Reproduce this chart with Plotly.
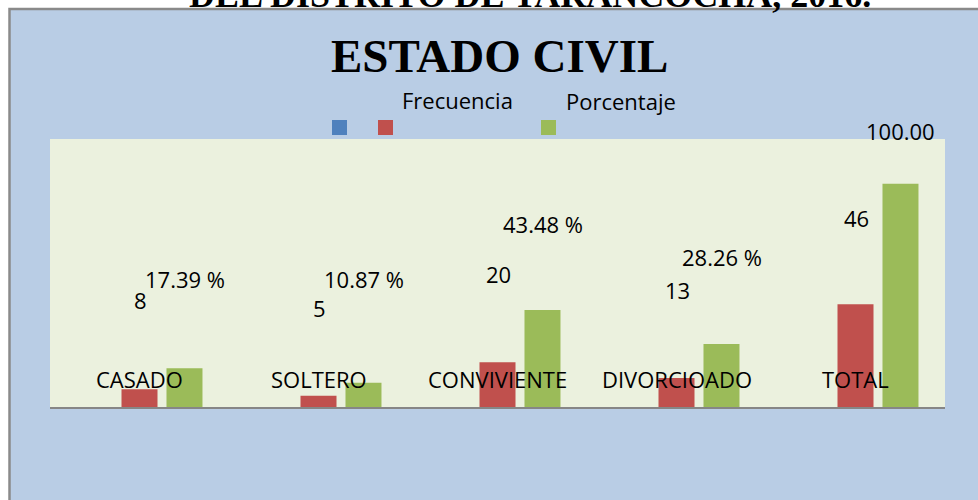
import plotly.graph_objects as go

# ---- data ----
categories = ["CASADO", "SOLTERO", "CONVIVIENTE", "DIVORCIOADO", "TOTAL"]
serie_vacia = [None, None, None, None, None]
frecuencia = [8, 5, 20, 13, 46]
porcentaje = [17.39, 10.87, 43.48, 28.26, 100.00]
frec_text = ["8", "5", "20", "13", "46"]
pct_text = ["17.39 %", "10.87 %", "43.48 %", "28.26 %", "100.00"]

title_text = "ESTADO CIVIL"
header_text = "DEL DISTRITO DE TARANCOCHA, 2016."
legend_names = ["Frecuencia", "Porcentaje"]

# ---- layout / style (pixel-derived positions, not data) ----
W, H = 978, 500
ML, MR, MT, MB = 50, 33, 139, 93
PW, PH = W - ML - MR, H - MT - MB


def px(xp):
    return (xp - ML) / PW


def py(yp):
    return (H - MB - yp) / PH


frec_label_y = [300, 308, 274, 289.5, 217.5]
pct_label_y = [278.5, 278.5, 224, 257, 131]

BLUE, RED, GREEN = "#4f81bd", "#c0504d", "#9bbb59"
OUTER_BG, PLOT_BG = "#b9cde5", "#ebf1de"
FONT = "Open Sans"

fig = go.Figure()
fig.add_trace(go.Bar(x=categories, y=serie_vacia, marker=dict(color=BLUE, line=dict(width=0)), name=""))
fig.add_trace(go.Bar(x=categories, y=frecuencia, marker=dict(color=RED, line=dict(width=0)), name=legend_names[0]))
fig.add_trace(go.Bar(x=categories, y=porcentaje, marker=dict(color=GREEN, line=dict(width=0)), name=legend_names[1]))

shapes = [
    dict(type="rect", xref="paper", yref="paper", layer="below",
         x0=px(9.5), x1=px(W + 20), y0=py(H + 20), y1=py(9),
         fillcolor=OUTER_BG, line=dict(color="#8a8a8a", width=2.5)),
    dict(type="rect", xref="paper", yref="paper", layer="below",
         x0=0, x1=1, y0=0, y1=1, fillcolor=PLOT_BG, line=dict(width=0)),
]
for x0, col in [(332, BLUE), (378, RED), (541, GREEN)]:
    shapes.append(dict(type="rect", xref="paper", yref="paper",
                       x0=px(x0), x1=px(x0 + 15), y0=py(135), y1=py(120),
                       fillcolor=col, line=dict(width=0)))

annotations = []
# header of the page, mostly cut off at the top edge as in the reference
annotations.append(dict(text="<b>" + header_text + "</b>", xref="paper", yref="paper", x=px(530), y=py(17),
                        xanchor="center", yanchor="bottom", showarrow=False,
                        font=dict(family="Liberation Serif", size=36, color="black")))
annotations.append(dict(text="<b>" + title_text + "</b>", xref="paper", yref="paper",
                        x=px(499), y=py(56), xanchor="center", yanchor="middle", showarrow=False,
                        font=dict(family="Liberation Serif", size=47, color="black")))
annotations.append(dict(text=legend_names[0], xref="paper", yref="paper", x=px(457), y=py(100),
                        xanchor="center", yanchor="middle", showarrow=False,
                        font=dict(family=FONT, size=22, color="black")))
annotations.append(dict(text=legend_names[1], xref="paper", yref="paper", x=px(620.5), y=py(101),
                        xanchor="center", yanchor="middle", showarrow=False,
                        font=dict(family=FONT, size=22, color="black")))
for i, c in enumerate(categories):
    annotations.append(dict(text=c, x=c, xref="x", yref="paper", y=py(378.5),
                            xanchor="center", yanchor="middle", showarrow=False,
                            font=dict(family=FONT, size=22, color="black")))
    annotations.append(dict(text=frec_text[i], x=c, xref="x", yref="paper", y=py(frec_label_y[i]),
                            xshift=0.5, xanchor="center", yanchor="middle", showarrow=False,
                            font=dict(family=FONT, size=22, color="black")))
    annotations.append(dict(text=pct_text[i], x=c, xref="x", yref="paper", y=py(pct_label_y[i]),
                            xshift=45, xanchor="center", yanchor="middle", showarrow=False,
                            font=dict(family=FONT, size=22, color="black")))

fig.update_layout(
    width=W, height=H,
    margin=dict(l=ML, r=MR, t=MT, b=MB, pad=0),
    paper_bgcolor="white", plot_bgcolor="rgba(0,0,0,0)",
    barmode="group", bargap=0.246, bargroupgap=0.2,
    showlegend=False,
    shapes=shapes, annotations=annotations,
    xaxis=dict(showticklabels=False, ticks="", showgrid=False, zeroline=False,
               showline=True, linecolor="#868686", linewidth=2, fixedrange=True),
    yaxis=dict(range=[0, 120], visible=False, showgrid=False, zeroline=False, fixedrange=True),
)

fig.write_html("out.html", config={"displayModeBar": False})

# remove the browser's default page margin so the figure starts at the window corner
with open("out.html", "r", encoding="utf-8") as f:
    html = f.read()
html = html.replace("<head>", "<head><style>html,body{margin:0;padding:0;overflow:hidden;}</style>", 1)
with open("out.html", "w", encoding="utf-8") as f:
    f.write(html)
